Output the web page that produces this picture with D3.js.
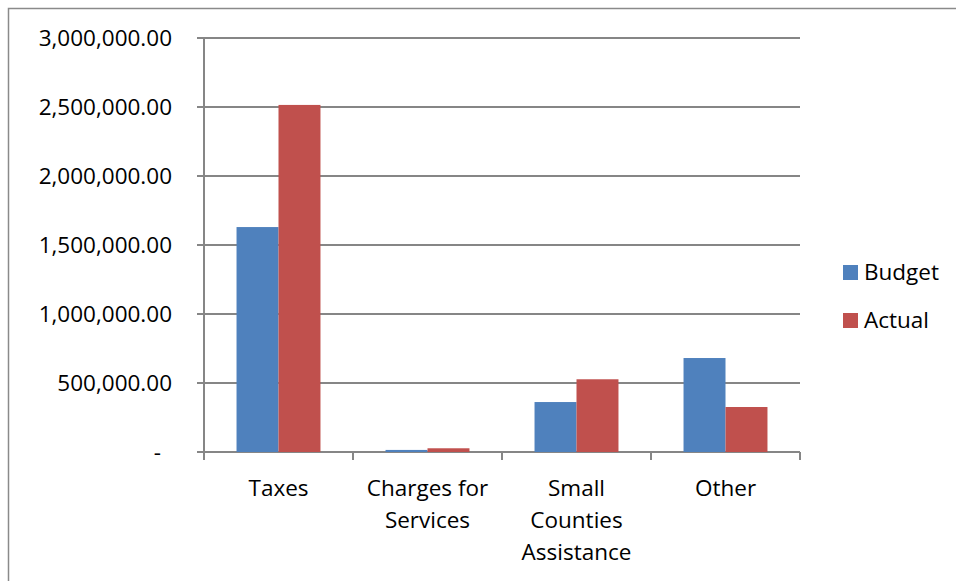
<!DOCTYPE html>
<html>
<head>
<meta charset="utf-8">
<script src="https://cdn.jsdelivr.net/npm/d3@7"></script>
<style>
  body { margin: 0; background: #fff; }
  svg text { font-family: "Open Sans", "Noto Sans", sans-serif; fill: #000; }
</style>
</head>
<body>
<svg width="956" height="581"></svg>
<script>
var categories = [["Taxes"], ["Charges for", "Services"], ["Small", "Counties", "Assistance"], ["Other"]];
var seriesNames = ["Budget", "Actual"];
var budget = [1630000, 15000, 362000, 681000];
var actual = [2515000, 27000, 527000, 326000];
var yTicks = [0, 500000, 1000000, 1500000, 2000000, 2500000, 3000000];
var colors = ["#4f81bd", "#c0504d"];

function main() {
    var svg = d3.select("svg");
    var left = 204, right = 800, top = 38, bottom = 452;
    var gridColor = "#868686";
    var fontSize = "22.5px";

    // chart border
    svg.append("rect")
        .attr("x", 8.5).attr("y", 8.5)
        .attr("width", 960).attr("height", 600)
        .attr("fill", "none")
        .attr("stroke", "#8a8a8a")
        .attr("stroke-width", 1.5);

    var x = d3.scaleBand().domain(d3.range(categories.length)).range([left, right]);
    var y = d3.scaleLinear().domain([0, 3000000]).range([bottom, top]);

    // gridlines
    svg.selectAll(".grid").data(yTicks).enter().append("line")
        .attr("x1", left - 7).attr("x2", right)
        .attr("y1", function (d) { return y(d); })
        .attr("y2", function (d) { return y(d); })
        .style("stroke", gridColor).style("stroke-width", 2);

    // y axis line
    svg.append("line")
        .attr("x1", left).attr("x2", left)
        .attr("y1", top).attr("y2", bottom + 8)
        .style("stroke", gridColor).style("stroke-width", 2);

    // x tick marks
    var xt = d3.range(categories.length + 1).map(function (i) { return left + i * x.bandwidth(); });
    svg.selectAll(".xtick").data(xt).enter().append("line")
        .attr("x1", function (d) { return d; }).attr("x2", function (d) { return d; })
        .attr("y1", bottom).attr("y2", bottom + 8)
        .style("stroke", gridColor).style("stroke-width", 2);

    // y labels
    var fmt = d3.format(",.2f");
    svg.selectAll(".ylab").data(yTicks).enter().append("text")
        .attr("x", function (d) { return d === 0 ? 161 : 172; })
        .attr("y", function (d) { return y(d); })
        .attr("dy", "0.35em")
        .attr("text-anchor", "end")
        .style("font-size", fontSize)
        .text(function (d) { return d === 0 ? "-" : fmt(d); });

    // bars
    var inner = d3.scaleBand().domain(d3.range(seriesNames.length))
        .range([0, x.bandwidth()]).paddingInner(0).paddingOuter(0.775);
    var series = [budget, actual];
    series.forEach(function (vals, s) {
        svg.selectAll(".bar" + s).data(vals).enter().append("rect")
            .attr("x", function (d, i) { return x(i) + inner(s); })
            .attr("y", function (d) { return y(d); })
            .attr("width", inner.bandwidth())
            .attr("height", function (d) { return bottom - y(d); })
            .attr("fill", colors[s]);
    });

    // category labels
    categories.forEach(function (lines, i) {
        var t = svg.append("text")
            .attr("text-anchor", "middle")
            .style("font-size", fontSize);
        lines.forEach(function (ln, j) {
            t.append("tspan")
                .attr("x", x(i) + x.bandwidth() / 2)
                .attr("y", 496 + j * 32)
                .text(ln);
        });
    });

    // legend
    seriesNames.forEach(function (name, s) {
        svg.append("rect")
            .attr("x", 843).attr("y", 265 + s * 48)
            .attr("width", 15).attr("height", 15)
            .attr("fill", colors[s]);
        svg.append("text")
            .attr("x", 864).attr("y", 280 + s * 48)
            .style("font-size", fontSize)
            .text(name);
    });
}
main();
</script>
</body>
</html>
